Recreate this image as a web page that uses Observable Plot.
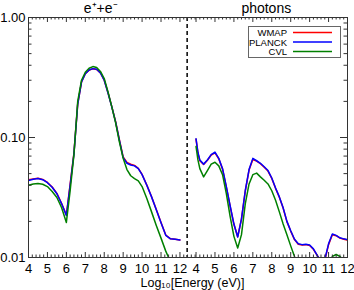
<!DOCTYPE html>
<html>
<head>
<meta charset="utf-8">
<script src="https://cdn.jsdelivr.net/npm/d3@7"></script>
<script src="https://cdn.jsdelivr.net/npm/@observablehq/plot@0.6"></script>
<style>
  html, body { margin: 0; padding: 0; background: #fff; }
</style>
</head>
<body>
<div id="chart"></div>
<script>
// ---- data ----
const panelTitles = ["e\u207A+e\u207B", "photons"];
const seriesNames = ["WMAP", "PLANCK", "CVL"];
const seriesColors = ["#ff0000", "#0000ff", "#008000"];
const xTickLabels = [4, 5, 6, 7, 8, 9, 10, 11, 12];
const yTickValues = [1, 0.1, 0.01];
const yTickLabels = ["1.00", "0.10", "0.01"];
const xTitle = "Log\u2081\u2080[Energy (eV)]";

// e+e- panel
const energyElectrons = [4, 4.25, 4.5, 4.75, 5, 5.25, 5.5, 5.75, 6, 6.2, 6.4, 6.6, 6.8, 7, 7.2, 7.4, 7.6, 7.8, 8, 8.2, 8.4, 8.6, 8.8, 9, 9.2, 9.4, 9.6, 9.8, 10, 10.25, 10.5, 10.75, 11, 11.25, 11.5, 11.75, 12];
const wmapElectrons   = [0.0445, 0.0452, 0.0458, 0.0447, 0.0422, 0.0387, 0.0342, 0.0282, 0.0226, 0.041, 0.074, 0.19, 0.29, 0.34, 0.364, 0.374, 0.369, 0.345, 0.30, 0.236, 0.181, 0.136, 0.096, 0.069, 0.062, 0.060, 0.0585, 0.0553, 0.0492, 0.0401, 0.0321, 0.0251, 0.0196, 0.0154, 0.0143, 0.0142, 0.0140];
const planckElectrons = [0.0438, 0.0448, 0.0455, 0.0445, 0.0420, 0.0385, 0.0340, 0.0280, 0.0224, 0.040, 0.073, 0.19, 0.29, 0.34, 0.365, 0.375, 0.370, 0.345, 0.30, 0.235, 0.180, 0.135, 0.095, 0.068, 0.061, 0.059, 0.058, 0.055, 0.049, 0.040, 0.032, 0.025, 0.0195, 0.0153, 0.0143, 0.0142, 0.0140];
const cvlElectrons    = [0.0400, 0.0410, 0.0414, 0.0408, 0.0390, 0.0355, 0.0316, 0.0260, 0.0196, 0.036, 0.072, 0.20, 0.30, 0.35, 0.378, 0.390, 0.383, 0.355, 0.31, 0.240, 0.180, 0.133, 0.092, 0.067, 0.054, 0.048, 0.0455, 0.0435, 0.039, 0.031, 0.024, 0.0185, 0.0145, 0.0113, 0.0092, 0.0085, 0.0080];

// photons panel
const energyPhotons = [4, 4.1, 4.2, 4.4, 4.6, 4.8, 5, 5.2, 5.4, 5.6, 5.8, 6, 6.2, 6.4, 6.6, 6.8, 7, 7.2, 7.4, 7.6, 7.8, 8, 8.2, 8.4, 8.6, 8.8, 9, 9.2, 9.4, 9.6, 9.8, 10, 10.2, 10.4, 10.6, 10.8, 11, 11.2, 11.4, 11.6, 11.8, 12];
const wmapPhotons   = [0.0965, 0.074, 0.064, 0.0595, 0.0645, 0.0715, 0.0745, 0.0665, 0.0545, 0.0385, 0.0268, 0.0189, 0.0149, 0.0209, 0.0358, 0.0535, 0.0655, 0.0635, 0.0605, 0.0565, 0.0525, 0.0456, 0.0377, 0.0318, 0.0258, 0.0199, 0.0166, 0.0141, 0.0129, 0.0127, 0.0128, 0.0126, 0.0117, 0.0104, 0.0093, 0.0095, 0.0128, 0.0155, 0.0152, 0.0145, 0.0142, 0.0140];
const planckPhotons = [0.0975, 0.075, 0.065, 0.060, 0.065, 0.072, 0.0755, 0.067, 0.055, 0.039, 0.027, 0.019, 0.0148, 0.021, 0.036, 0.054, 0.067, 0.064, 0.061, 0.057, 0.053, 0.046, 0.038, 0.032, 0.026, 0.020, 0.0167, 0.0142, 0.013, 0.0128, 0.0129, 0.0127, 0.0118, 0.0104, 0.0093, 0.0096, 0.0130, 0.0157, 0.0153, 0.0146, 0.0143, 0.0141];
const cvlPhotons    = [0.084, 0.065, 0.055, 0.047, 0.053, 0.060, 0.0622, 0.058, 0.049, 0.034, 0.022, 0.015, 0.012, 0.0155, 0.028, 0.041, 0.049, 0.0505, 0.047, 0.044, 0.041, 0.036, 0.030, 0.024, 0.019, 0.0155, 0.0125, 0.0102, 0.0085, 0.0075, 0.0068, 0.0064, 0.0062, 0.0063, 0.0066, 0.0072, 0.0085, 0.0102, 0.0106, 0.0102, 0.0095, 0.0090];

// ---- layout ----
const W = 354, H = 290;
const mL = 28, mR = 7, mT = 17, mB = 33;
const innerW = W - mL - mR, innerH = H - mT - mB;
const OFFSET = 8.85;          // photons panel is shifted right along the shared x scale
const DIVIDER = 12.38;        // dashed separator position
const FONT = "'Liberation Sans', Arial, Helvetica, sans-serif";

function rows(energies, values, panel, series) {
  return energies.map((e, i) => ({x: panel === 0 ? e : e + OFFSET, v: values[i], panel, series}));
}
const seriesElectrons = [wmapElectrons, planckElectrons, cvlElectrons];
const seriesPhotons = [wmapPhotons, planckPhotons, cvlPhotons];

const lineMarks = [];
seriesNames.forEach((name, s) => {
  lineMarks.push(Plot.line(rows(energyElectrons, seriesElectrons[s], 0, name), {x: "x", y: "v", stroke: seriesColors[s], strokeWidth: 1.5, clip: true}));
  lineMarks.push(Plot.line(rows(energyPhotons, seriesPhotons[s], 1, name), {x: "x", y: "v", stroke: seriesColors[s], strokeWidth: 1.5, clip: true}));
});

// tick positions on the shared x scale
const xMajor = xTickLabels.map(d => d).concat(xTickLabels.map(d => d + OFFSET));
const xMinor = d3.range(4, 12.81, 0.2).concat(d3.range(4, 12.01, 0.2).map(d => d + OFFSET))
  .filter(d => !xMajor.some(m => Math.abs(m - d) < 1e-6));
const yMinor = [];
[0.01, 0.1].forEach(b => { for (let k = 2; k <= 9; k++) yMinor.push(b * k); });

const axisColor = "#333";

const svg = Plot.plot({
  width: W, height: H,
  marginLeft: mL, marginRight: mR, marginTop: mT, marginBottom: mB,
  x: {domain: [4, 12 + OFFSET], axis: null},
  y: {type: "log", domain: [0.01, 1], axis: null},
  style: {fontFamily: FONT, background: "#fff", color: "#000"},
  marks: [
    ...lineMarks,
    Plot.ruleX([DIVIDER], {x: d => d, stroke: "#000", strokeWidth: 1.5, strokeDasharray: "4,3"}),
    // bottom ticks (inward)
    Plot.tickX(xMajor, {x: d => d, insetTop: innerH - 5, stroke: axisColor}),
    Plot.tickX(xMinor, {x: d => d, insetTop: innerH - 2.5, stroke: axisColor}),
    // top ticks (inward)
    Plot.tickX(xMajor, {x: d => d, insetBottom: innerH - 5, stroke: axisColor}),
    Plot.tickX(xMinor, {x: d => d, insetBottom: innerH - 2.5, stroke: axisColor}),
    // left ticks
    Plot.tickY(yTickValues, {y: d => d, insetRight: innerW - 7, stroke: axisColor}),
    Plot.tickY(yMinor, {y: d => d, insetRight: innerW - 3.5, stroke: axisColor}),
    // right ticks
    Plot.tickY(yTickValues, {y: d => d, insetLeft: innerW - 7, stroke: axisColor}),
    Plot.tickY(yMinor, {y: d => d, insetLeft: innerW - 3.5, stroke: axisColor}),
    Plot.frame({stroke: axisColor}),
    // y tick labels
    Plot.text(yTickValues, {y: d => d, text: (d, i) => yTickLabels[i], frameAnchor: "left", textAnchor: "end", dx: -3, fontSize: 13, fill: "#000"}),
    // x tick labels
    Plot.text(xTickLabels, {x: d => d, text: d => String(d), frameAnchor: "bottom", lineAnchor: "top", dy: 6, fontSize: 13, fill: "#000"}),
    Plot.text(xTickLabels, {x: d => d + OFFSET, text: d => String(d), frameAnchor: "bottom", lineAnchor: "top", dy: 6, fontSize: 13, fill: "#000"}),
    // x title
    Plot.text([xTitle], {x: 12.66, text: d => d, frameAnchor: "bottom", lineAnchor: "bottom", dy: 29, fontSize: 12.5, fill: "#000"}),
    // panel titles
    Plot.text([panelTitles[0]], {x: 7.81, text: d => d, frameAnchor: "top", lineAnchor: "bottom", dy: -4.5, fontSize: 14, fill: "#000"}),
    Plot.text([panelTitles[1]], {x: 16.56, text: d => d, frameAnchor: "top", lineAnchor: "bottom", dy: -4.5, fontSize: 14, fill: "#000"})
  ]
});

// legend box
const lg = d3.select(svg).append("g").attr("font-family", FONT).attr("font-size", 9.5);
lg.append("rect").attr("x", 248.5).attr("y", 26.5).attr("width", 92).attr("height", 31)
  .attr("fill", "#fff").attr("stroke", "#666").attr("stroke-width", 1);
seriesNames.forEach((name, i) => {
  const cy = 32.5 + i * 9.5;
  lg.append("text").attr("x", 287).attr("y", cy).attr("text-anchor", "end")
    .attr("dominant-baseline", "central").attr("fill", "#000").text(name);
  lg.append("line").attr("x1", 293).attr("x2", 332).attr("y1", cy).attr("y2", cy)
    .attr("stroke", seriesColors[i]).attr("stroke-width", 1.5);
});

document.getElementById("chart").appendChild(svg);
</script>
</body>
</html>
